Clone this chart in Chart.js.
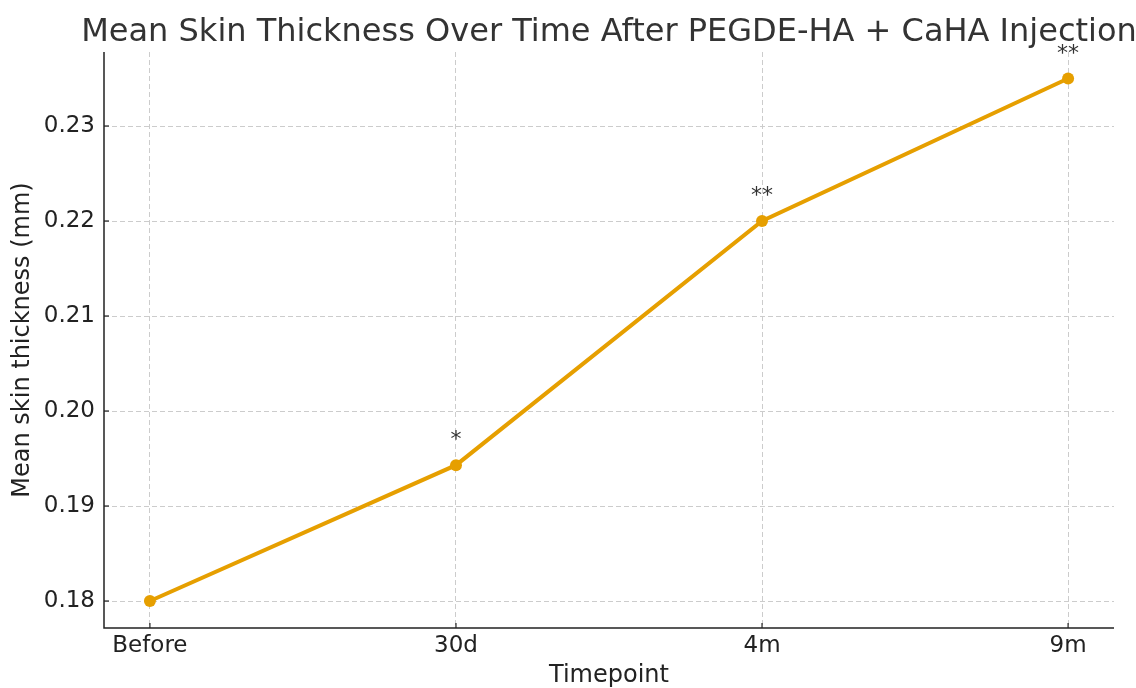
<!DOCTYPE html>
<html>
<head>
<meta charset="utf-8">
<script src="https://cdn.jsdelivr.net/npm/chart.js@4/dist/chart.umd.min.js"></script>
<style>
  html, body { margin: 0; padding: 0; background: #fff; }
  #wrap { width: 1136px; height: 688px; }
</style>
</head>
<body>
<div id="wrap"><canvas id="skinChart" width="1136" height="688"></canvas></div>
<script>
// Datos
const timepoints = ['Before', '30d', '4m', '9m'];
const meanThickness = [0.180, 0.1943, 0.220, 0.235];
const significance = ['', '*', '**', '**'];
const yTicks = [0.18, 0.19, 0.20, 0.21, 0.22, 0.23];

const FONT = "'DejaVu Sans', sans-serif";
const ORANGE = '#E69F00';

// Título, marcas internas y asteriscos
const extras = {
  id: 'extras',
  afterDraw(chart) {
    const c = chart.ctx;
    const area = chart.chartArea;
    const x = chart.scales.x, y = chart.scales.y;
    c.save();
    // ejes izquierdo e inferior
    c.strokeStyle = '#222';
    c.lineWidth = 1.5;
    c.beginPath();
    c.moveTo(area.left, area.top);
    c.lineTo(area.left, area.bottom);
    c.lineTo(area.right, area.bottom);
    c.stroke();
    // marcas hacia dentro
    c.lineWidth = 1.2;
    yTicks.forEach(v => {
      const py = y.getPixelForValue(v);
      c.beginPath(); c.moveTo(area.left, py); c.lineTo(area.left + 5, py); c.stroke();
    });
    timepoints.forEach((t, i) => {
      const px = x.getPixelForValue(i);
      c.beginPath(); c.moveTo(px, area.bottom); c.lineTo(px, area.bottom - 5); c.stroke();
    });
    // asteriscos
    c.fillStyle = '#333';
    c.font = '22px ' + FONT;
    c.textAlign = 'center';
    c.textBaseline = 'alphabetic';
    significance.forEach((s, i) => {
      if (!s) return;
      c.fillText(s, x.getPixelForValue(i), y.getPixelForValue(meanThickness[i] + 0.002));
    });
    // título
    c.font = '32px ' + FONT;
    c.fillText('Mean Skin Thickness Over Time After PEGDE-HA + CaHA Injection', (area.left + area.right) / 2, 41);
    c.restore();
  }
};

new Chart(document.getElementById('skinChart'), {
  type: 'line',
  data: {
    datasets: [{
      data: meanThickness.map((v, i) => ({ x: i, y: v })),
      borderColor: ORANGE,
      backgroundColor: ORANGE,
      borderWidth: 4,
      pointRadius: 6,
      pointHoverRadius: 6,
      pointBorderWidth: 0,
      tension: 0
    }]
  },
  options: {
    responsive: false,
    animation: false,
    layout: { padding: { top: 52, right: 22, left: 0, bottom: 0 } },
    plugins: {
      legend: { display: false },
      tooltip: { enabled: false }
    },
    scales: {
      x: {
        type: 'linear',
        min: -0.15,
        max: 3.15,
        afterBuildTicks: axis => { axis.ticks = timepoints.map((t, i) => ({ value: i })); },
        afterFit: axis => { axis.height = 60; },
        ticks: {
          callback: v => timepoints[v],
          color: '#222',
          font: { family: FONT, size: 23 },
          padding: 4,
          maxRotation: 0
        },
        grid: { color: '#cccccc', lineWidth: 1, drawTicks: false },
        border: { display: false, dash: [5, 3] },
        title: {
          display: true,
          text: 'Timepoint',
          color: '#222',
          font: { family: FONT, size: 24, lineHeight: 1 },
          padding: { top: 0, bottom: 0 }
        }
      },
      y: {
        min: 0.17716,
        max: 0.23779,
        afterBuildTicks: axis => { axis.ticks = yTicks.map(v => ({ value: v })); },
        afterFit: axis => { axis.width = 104; },
        ticks: {
          callback: v => v.toFixed(2),
          color: '#222',
          font: { family: FONT, size: 23 },
          padding: 9
        },
        grid: { color: '#cccccc', lineWidth: 1, drawTicks: false },
        border: { display: false, dash: [5, 3] },
        title: {
          display: true,
          text: 'Mean skin thickness (mm)',
          color: '#222',
          font: { family: FONT, size: 24, lineHeight: 1.2 },
          padding: { top: 8, bottom: 0 }
        }
      }
    }
  },
  plugins: [extras]
});
</script>
</body>
</html>
